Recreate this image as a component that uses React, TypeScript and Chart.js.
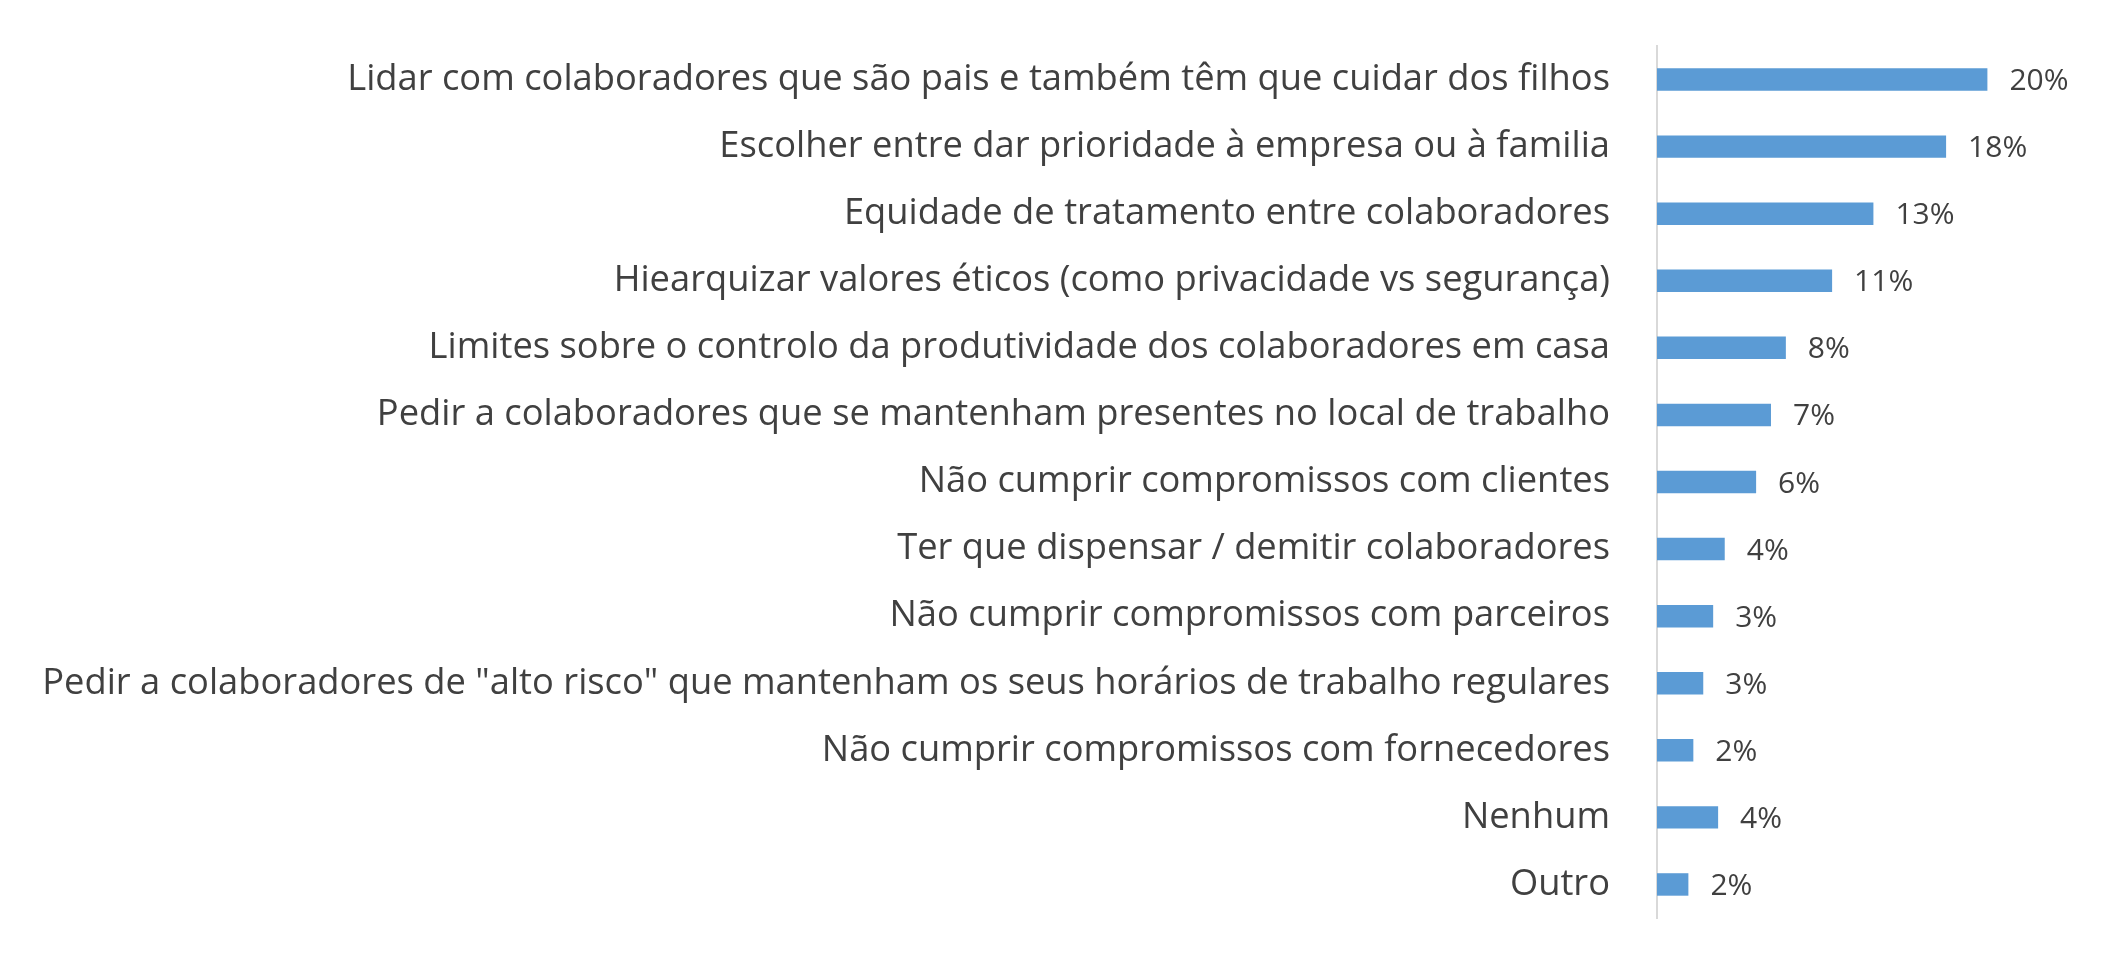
import { useEffect, useRef } from 'react';
import { Chart, registerables } from 'chart.js';

Chart.register(...registerables);

const categories = [
  'Lidar com colaboradores que são pais e também têm que cuidar dos filhos',
  'Escolher entre dar prioridade à empresa ou à familia',
  'Equidade de tratamento entre colaboradores',
  'Hiearquizar valores éticos (como privacidade vs segurança)',
  'Limites sobre o controlo da produtividade dos colaboradores em casa',
  'Pedir a colaboradores que se mantenham presentes no local de trabalho',
  'Não cumprir compromissos com clientes',
  'Ter que dispensar / demitir colaboradores',
  'Não cumprir compromissos com parceiros',
  'Pedir a colaboradores de "alto risco" que mantenham os seus horários de trabalho regulares',
  'Não cumprir compromissos com fornecedores',
  'Nenhum',
  'Outro',
];

// percent values
const shares = [20.0, 17.5, 13.1, 10.6, 7.8, 6.9, 6.0, 4.1, 3.4, 2.8, 2.2, 3.7, 1.9];

const textColor = '#404040';
const fontFamily = "'Open Sans', sans-serif";

const valueLabels = {
  id: 'valueLabels',
  afterDatasetsDraw(chart: Chart) {
    const ctx = chart.ctx;
    const meta = chart.getDatasetMeta(0);
    ctx.save();
    ctx.font = `30px ${fontFamily}`;
    ctx.fillStyle = textColor;
    ctx.textAlign = 'left';
    ctx.textBaseline = 'middle';
    meta.data.forEach((bar: any, i: number) => {
      ctx.fillText(Math.round(shares[i]) + '%', bar.x + 22, bar.y + 2);
    });
    ctx.restore();
  },
};

const App = () => {
  const canvasRef = useRef<HTMLCanvasElement>(null);
  const chartRef = useRef<Chart | null>(null);

  useEffect(() => {
    if (!canvasRef.current) return;
    if (chartRef.current) chartRef.current.destroy();

    chartRef.current = new Chart(canvasRef.current, {
      type: 'bar',
      data: {
        labels: categories,
        datasets: [
          {
            data: shares,
            backgroundColor: '#5B9BD5',
            borderWidth: 0,
            barPercentage: 1,
            categoryPercentage: 0.335,
          },
        ],
      },
      options: {
        indexAxis: 'y',
        animation: false,
        responsive: true,
        maintainAspectRatio: false,
        layout: { padding: { top: 46, bottom: 42, left: 0, right: 42 } },
        plugins: {
          legend: { display: false },
          tooltip: { enabled: false },
        },
        scales: {
          x: { display: false, min: 0, max: 25 },
          y: {
            grid: { display: false },
            border: { display: true, color: '#D9D9D9', width: 2 },
            ticks: {
              color: textColor,
              padding: 39,
              font: { family: fontFamily, size: 36.3 },
            },
            afterFit: (scale: any) => {
              scale.width = 1657;
              scale.paddingTop = 0;
              scale.paddingBottom = 0;
            },
          },
        },
      },
      plugins: [valueLabels],
    });

    return () => {
      if (chartRef.current) {
        chartRef.current.destroy();
        chartRef.current = null;
      }
    };
  }, []);

  return (
    <div style={{ position: 'absolute', left: 0, top: 0, width: 2112, height: 960, background: '#fff' }}>
      <canvas ref={canvasRef} />
    </div>
  );
};

export default App;
